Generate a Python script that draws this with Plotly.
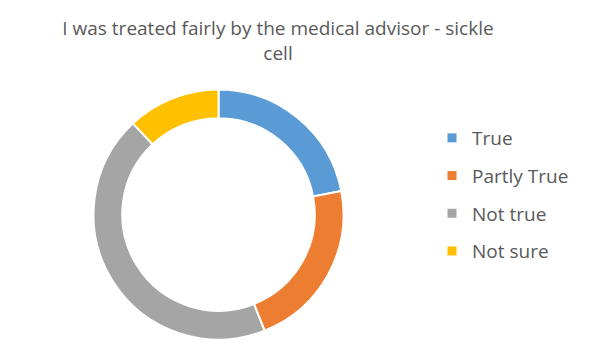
import plotly.graph_objects as go

labels = ["True", "Partly True", "Not true", "Not sure"]
values = [22, 22, 44, 12]
colors = ["#5B9BD5", "#ED7D31", "#A5A5A5", "#FFC000"]
title_text = "I was treated fairly by the medical advisor - sickle<br>cell"

W, H = 595, 355
cx, cy, R = 218.5, 214.5, 125

fig = go.Figure()
fig.add_trace(go.Pie(
    labels=labels, values=values, hole=0.77, sort=False, direction="clockwise",
    rotation=0, textinfo="none", hoverinfo="label+percent",
    marker=dict(colors=colors, line=dict(color="white", width=2)),
    showlegend=False,
    domain=dict(x=[(cx - R) / W, (cx + R) / W], y=[(H - cy - R) / H, (H - cy + R) / H]),
))
for lab, col in zip(labels, colors):
    fig.add_trace(go.Scatter(
        x=[None], y=[None], mode="markers", name=lab, legendgroup=lab,
        marker=dict(symbol="square", size=9, color=col), showlegend=True,
    ))

fig.update_layout(
    width=W, height=H,
    margin=dict(l=0, r=0, t=0, b=0),
    paper_bgcolor="white", plot_bgcolor="white",
    font=dict(family="Open Sans", color="#595959"),
    title=dict(text=title_text, x=278 / W, xanchor="center", y=1 - 35 / H, yanchor="top",
               yref="container", font=dict(size=19, color="#595959")),
    xaxis=dict(visible=False), yaxis=dict(visible=False),
    legend=dict(x=432 / W, xanchor="left", y=1 - 119 / H, yanchor="top",
                font=dict(size=19, color="#595959"), tracegroupgap=10,
                bgcolor="rgba(0,0,0,0)"),
)
fig.write_html("out.html", config={"displayModeBar": False},
               post_script="document.body.style.margin='0px';")
